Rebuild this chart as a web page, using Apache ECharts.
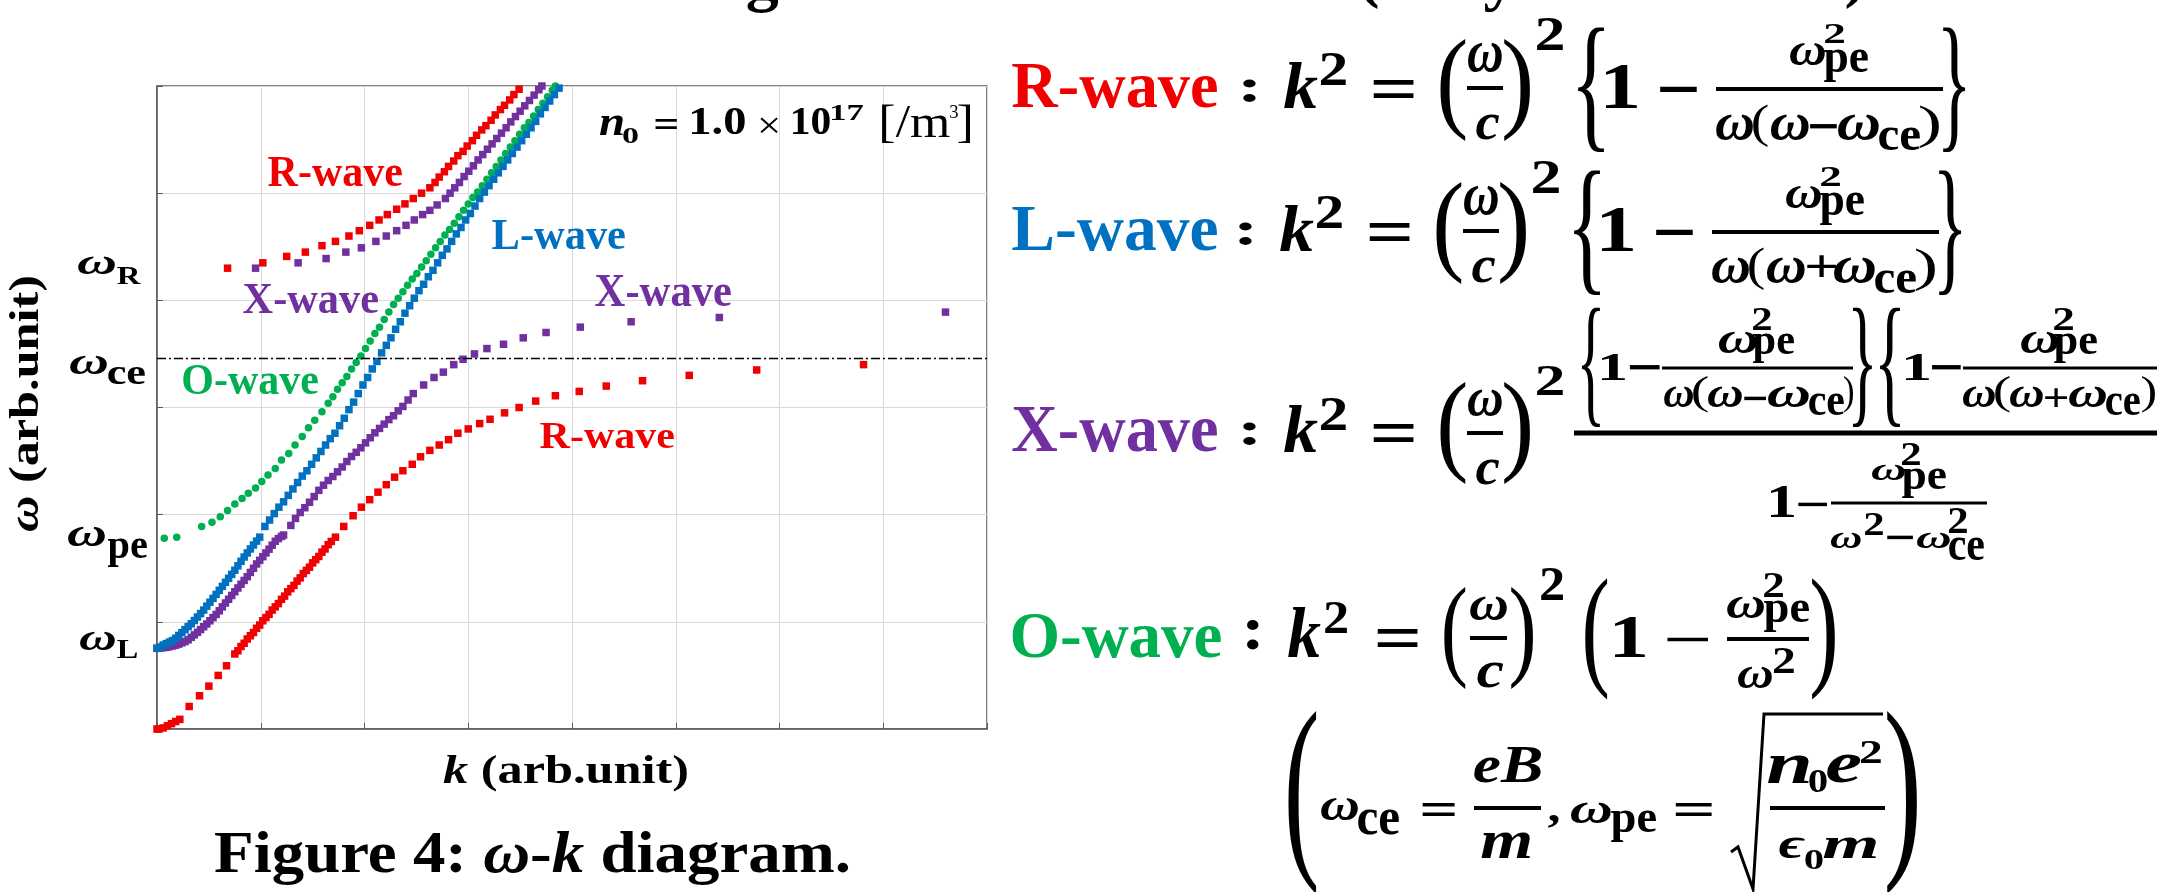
<!DOCTYPE html>
<html>
<head>
<meta charset="utf-8">
<script src="https://cdn.jsdelivr.net/npm/echarts@6/dist/echarts.min.js"></script>
<style>
  html, body { margin: 0; padding: 0; background: #fff; }
  #chart { width: 2157px; height: 892px; }
</style>
</head>
<body>
<div id="chart"></div>
<script>
// ---- data (k, omega in arb. units: one grid cell = 1) ----
const omegaTickValues = [4.32, 3.39, 1.79, 0.82];
const omegaTickNames = ['R', 'ce', 'pe', 'L'];
const omegaCe = 3.46;

const rWaveLow = [
  [0.00, 0.00], [0.02, 0.00], [0.06, 0.01], [0.10, 0.03], [0.14, 0.05], [0.18, 0.07], [0.22, 0.09],
  [0.31, 0.21], [0.41, 0.31], [0.50, 0.40], [0.59, 0.50], [0.67, 0.59],
  [0.75, 0.70], [0.78, 0.73], [0.81, 0.77], [0.84, 0.80], [0.87, 0.84], [0.90, 0.87], [0.93, 0.90],
  [0.96, 0.94], [0.99, 0.97], [1.02, 1.01], [1.05, 1.04], [1.08, 1.07], [1.11, 1.11], [1.14, 1.14],
  [1.17, 1.17], [1.20, 1.21], [1.23, 1.24], [1.26, 1.28], [1.29, 1.31], [1.32, 1.34], [1.35, 1.38],
  [1.38, 1.41], [1.41, 1.45], [1.44, 1.48], [1.47, 1.51], [1.50, 1.55], [1.53, 1.58], [1.56, 1.61],
  [1.59, 1.65], [1.62, 1.68], [1.65, 1.72], [1.68, 1.75], [1.72, 1.79],
  [1.80, 1.89], [1.89, 1.99], [1.97, 2.07], [2.05, 2.14], [2.13, 2.21], [2.21, 2.28], [2.29, 2.35],
  [2.37, 2.41], [2.46, 2.47], [2.54, 2.54], [2.63, 2.60], [2.72, 2.65], [2.81, 2.70], [2.90, 2.76],
  [3.00, 2.80], [3.11, 2.85], [3.21, 2.89], [3.35, 2.95], [3.49, 3.00], [3.65, 3.06], [3.84, 3.11],
  [4.07, 3.15], [4.33, 3.20], [4.68, 3.25], [5.13, 3.30], [5.78, 3.35], [6.81, 3.40]
];
const rWaveHigh = [
  [0.68, 4.30], [1.02, 4.35], [1.25, 4.41], [1.43, 4.45], [1.59, 4.51], [1.72, 4.55], [1.85, 4.60],
  [1.95, 4.65], [2.05, 4.70], [2.14, 4.75], [2.22, 4.80], [2.31, 4.85], [2.39, 4.90], [2.47, 4.95],
  [2.55, 5.00], [2.63, 5.05], [2.68, 5.10], [2.72, 5.15], [2.77, 5.20], [2.81, 5.25], [2.86, 5.30],
  [2.90, 5.35], [2.95, 5.39], [2.99, 5.44], [3.04, 5.49], [3.08, 5.54], [3.13, 5.59], [3.17, 5.63],
  [3.22, 5.68], [3.26, 5.73], [3.31, 5.78], [3.35, 5.82], [3.40, 5.87], [3.44, 5.92], [3.49, 5.97],
  [3.53, 6.01]
];
const xWaveLow = [
  [0.00, 0.753], [0.03, 0.755], [0.06, 0.759], [0.09, 0.762], [0.12, 0.768], [0.15, 0.775], [0.18, 0.782],
  [0.21, 0.792], [0.24, 0.804], [0.27, 0.816], [0.30, 0.832], [0.33, 0.855], [0.36, 0.878], [0.39, 0.902],
  [0.42, 0.928], [0.45, 0.954], [0.48, 0.98], [0.51, 1.01], [0.54, 1.039], [0.57, 1.069], [0.60, 1.103],
  [0.63, 1.14], [0.66, 1.176], [0.69, 1.211], [0.72, 1.246], [0.75, 1.281], [0.78, 1.316], [0.81, 1.351],
  [0.84, 1.386], [0.87, 1.421], [0.90, 1.461], [0.93, 1.50], [0.96, 1.54], [0.99, 1.574], [1.02, 1.608],
  [1.05, 1.643], [1.08, 1.678], [1.11, 1.715], [1.14, 1.752], [1.17, 1.777], [1.20, 1.797], [1.22, 1.81],
  [1.29, 1.90], [1.335, 1.965], [1.38, 2.02], [1.425, 2.065], [1.47, 2.116], [1.515, 2.169], [1.56, 2.227],
  [1.605, 2.275], [1.65, 2.319], [1.695, 2.356], [1.74, 2.40], [1.785, 2.445], [1.83, 2.496], [1.875, 2.543],
  [1.92, 2.582], [1.965, 2.624], [2.01, 2.67], [2.055, 2.718], [2.10, 2.764], [2.145, 2.805], [2.19, 2.845],
  [2.235, 2.887], [2.28, 2.923], [2.325, 2.969], [2.37, 3.01], [2.42, 3.07], [2.47, 3.13],
  [2.57, 3.21], [2.67, 3.28], [2.76, 3.33], [2.86, 3.40], [2.95, 3.45], [3.06, 3.50], [3.18, 3.55],
  [3.34, 3.59], [3.53, 3.65], [3.75, 3.70], [4.08, 3.75], [4.57, 3.80], [5.42, 3.84], [7.60, 3.89]
];
const xWaveHigh = [
  [0.95, 4.30], [1.36, 4.35], [1.63, 4.39], [1.82, 4.45], [1.97, 4.49], [2.11, 4.55], [2.21, 4.60],
  [2.31, 4.65], [2.40, 4.70], [2.48, 4.75], [2.56, 4.80], [2.63, 4.84], [2.70, 4.89], [2.78, 4.95],
  [2.825, 5.00], [2.87, 5.05], [2.915, 5.10], [2.96, 5.155], [3.005, 5.205], [3.05, 5.255], [3.095, 5.31],
  [3.14, 5.36], [3.185, 5.41], [3.23, 5.46], [3.275, 5.51], [3.32, 5.56], [3.365, 5.61], [3.41, 5.665],
  [3.455, 5.715], [3.50, 5.765], [3.545, 5.815], [3.59, 5.865], [3.635, 5.915], [3.68, 5.965], [3.71, 6.00]
];
const lWave = [
  [0.00, 0.753], [0.03, 0.765], [0.06, 0.784], [0.09, 0.797], [0.12, 0.811], [0.15, 0.825], [0.18, 0.847],
  [0.21, 0.873], [0.24, 0.899], [0.27, 0.927], [0.30, 0.955], [0.33, 0.982], [0.36, 1.012], [0.39, 1.045],
  [0.42, 1.077], [0.45, 1.11], [0.48, 1.146], [0.51, 1.183], [0.54, 1.219], [0.57, 1.256], [0.60, 1.294],
  [0.63, 1.331], [0.66, 1.369], [0.69, 1.406], [0.72, 1.443], [0.75, 1.481], [0.78, 1.523], [0.81, 1.565],
  [0.84, 1.605], [0.87, 1.643], [0.90, 1.68], [0.93, 1.717], [0.96, 1.753], [0.99, 1.79],
  [1.04, 1.89], [1.085, 1.95], [1.13, 2.01], [1.175, 2.07], [1.22, 2.12], [1.265, 2.18], [1.31, 2.24],
  [1.355, 2.30], [1.40, 2.36], [1.445, 2.41], [1.49, 2.47], [1.535, 2.53], [1.58, 2.59], [1.625, 2.65],
  [1.67, 2.71], [1.715, 2.76], [1.76, 2.83], [1.805, 2.90], [1.85, 2.98], [1.895, 3.05], [1.94, 3.13],
  [1.985, 3.21], [2.03, 3.28], [2.075, 3.36], [2.12, 3.43], [2.165, 3.51], [2.21, 3.58], [2.255, 3.65],
  [2.30, 3.73], [2.345, 3.80], [2.39, 3.88], [2.435, 3.95], [2.48, 4.02], [2.525, 4.09], [2.57, 4.15],
  [2.615, 4.22], [2.66, 4.28], [2.705, 4.35], [2.75, 4.42], [2.795, 4.48], [2.84, 4.55], [2.885, 4.62],
  [2.93, 4.68], [2.975, 4.75], [3.02, 4.81], [3.065, 4.88], [3.11, 4.95], [3.155, 5.01], [3.20, 5.07],
  [3.245, 5.13], [3.29, 5.19], [3.335, 5.25], [3.38, 5.31], [3.425, 5.37], [3.47, 5.43], [3.515, 5.49],
  [3.56, 5.55], [3.605, 5.61], [3.65, 5.67], [3.695, 5.74], [3.74, 5.80], [3.785, 5.86], [3.83, 5.92],
  [3.875, 5.98], [3.90, 6.01]
];
const oWave = [
  [0.07, 1.78], [0.19, 1.79],
  [0.43, 1.89], [0.53, 1.93], [0.61, 1.98], [0.68, 2.04], [0.75, 2.10], [0.82, 2.15], [0.88, 2.20],
  [0.95, 2.25], [1.01, 2.31], [1.07, 2.37], [1.14, 2.43], [1.20, 2.51], [1.27, 2.57], [1.33, 2.65],
  [1.40, 2.73], [1.46, 2.81], [1.52, 2.88], [1.59, 2.96], [1.65, 3.04], [1.695, 3.10], [1.74, 3.17],
  [1.785, 3.23], [1.83, 3.29], [1.875, 3.36], [1.92, 3.42], [1.965, 3.48], [2.01, 3.55], [2.055, 3.62],
  [2.10, 3.69], [2.145, 3.75], [2.19, 3.82], [2.235, 3.89], [2.28, 3.96], [2.325, 4.02], [2.37, 4.08],
  [2.415, 4.14], [2.46, 4.20], [2.505, 4.25], [2.55, 4.31], [2.595, 4.37], [2.64, 4.43], [2.685, 4.49],
  [2.73, 4.55], [2.775, 4.61], [2.82, 4.66], [2.865, 4.72], [2.91, 4.78], [2.955, 4.84], [3.00, 4.90],
  [3.045, 4.96], [3.09, 5.01], [3.135, 5.07], [3.18, 5.13], [3.225, 5.19], [3.27, 5.25], [3.315, 5.31],
  [3.36, 5.37], [3.405, 5.43], [3.45, 5.49], [3.495, 5.55], [3.54, 5.61], [3.585, 5.66], [3.63, 5.72],
  [3.675, 5.78], [3.72, 5.84], [3.765, 5.90], [3.81, 5.96], [3.84, 6.00]
];

const RED = '#f00000';
const PURPLE = '#7030a0';
const BLUE = '#0070c0';
const GREEN = '#00b050';
const FAM = '"Liberation Serif", "DejaVu Serif", serif';

const chart = echarts.init(document.getElementById('chart'));

function waveSeries(name, data, color, symbol) {
  return {
    name, type: 'scatter', data,
    symbol: symbol || 'rect', symbolSize: 7.5,
    itemStyle: { color, opacity: 1 },
    silent: true
  };
}

const option = {
  animation: false,
  backgroundColor: '#fff',
  grid: {
    left: 157, top: 86, width: 830, height: 643,
    show: true, borderColor: '#595959', borderWidth: 1.5
  },
  xAxis: {
    type: 'value', min: 0, max: 8, interval: 1,
    axisLine: { onZero: false, lineStyle: { color: '#595959', width: 1.5 } },
    axisTick: { inside: true, length: 6, lineStyle: { color: '#595959' } },
    axisLabel: { show: false },
    splitLine: { lineStyle: { color: '#d9d9d9', width: 1 } }
  },
  yAxis: {
    type: 'value', min: 0, max: 6, interval: 1,
    axisLine: { onZero: false, lineStyle: { color: '#595959', width: 1.5 } },
    axisTick: { inside: true, length: 6, lineStyle: { color: '#595959' } },
    axisLabel: { show: false },
    splitLine: { lineStyle: { color: '#d9d9d9', width: 1 } }
  },
  series: [
    Object.assign(waveSeries('O-wave', oWave, GREEN, 'circle'), {
      markLine: {
        silent: true, symbol: 'none', label: { show: false },
        lineStyle: { color: '#000', width: 1.3, type: [9, 3, 2, 3] },
        data: [{ yAxis: omegaCe }]
      }
    }),
    waveSeries('X-wave', xWaveLow, PURPLE),
    waveSeries('X-wave', xWaveHigh, PURPLE),
    waveSeries('R-wave', rWaveLow, RED),
    waveSeries('R-wave', rWaveHigh, RED),
    waveSeries('L-wave', lWave, BLUE)
  ]
};
chart.setOption(option);

// ---- text helpers: fit a string's ink into a box ----
const mctx = document.createElement('canvas').getContext('2d');
mctx.textBaseline = 'middle';
mctx.textAlign = 'left';
function fontOf(size, it, w) {
  return (it ? 'italic ' : 'normal ') + (w || 'bold') + ' ' + size + 'px ' + FAM;
}
function ink(s, it, w) {
  mctx.font = fontOf(100, it, w);
  const m = mctx.measureText(s);
  return { l: m.actualBoundingBoxLeft, r: m.actualBoundingBoxRight, a: m.actualBoundingBoxAscent, d: m.actualBoundingBoxDescent };
}
function textEl(s, x, y, size, o, sx, rot) {
  return {
    type: 'text', x, y, scaleX: sx, rotation: rot || 0, z: 50, silent: true,
    style: {
      text: s, fontSize: size, fontStyle: o.i ? 'italic' : 'normal', fontWeight: o.w || 'bold',
      fontFamily: FAM, fill: o.c || '#000', align: 'left', verticalAlign: 'middle'
    }
  };
}
function fit(s, x1, y1, x2, y2, o) {
  o = Object.assign({}, o);
  if (!o.w && '(){}'.indexOf(s) >= 0) o.w = 'normal';   // brackets are drawn thin
  const m = ink(s, o.i, o.w);
  const k = (y2 - y1) / (m.a + m.d);
  const sx = (x2 - x1) / ((m.l + m.r) * k);
  return textEl(s, x1 + sx * m.l * k, y1 + m.a * k, 100 * k, o, sx);
}
// glyph of a given size whose ink bottom sits at yb, centred on xc
function tail(s, xc, yb, size) {
  const m = ink(s, false);
  const k = size / 100;
  return textEl(s, xc - (m.r - m.l) * k / 2, yb - m.d * k, size, {}, 1);
}
// a run of pieces sharing one size, laid out left to right (or bottom to top)
function run(pieces, from, to, base, size, rot) {
  const descH = ink('H', false).d * size / 100;
  let total = 0;
  const widths = pieces.map(p => {
    mctx.font = fontOf(size, p[1]);
    const w = mctx.measureText(p[0]).width;
    total += w;
    return w;
  });
  const sx = Math.abs(to - from) / total;
  const out = [];
  let cum = 0;
  pieces.forEach((p, i) => {
    const o = { i: p[1] };
    if (rot) out.push(textEl(p[0], base - descH, from - sx * cum, size, o, sx, Math.PI / 2));
    else out.push(textEl(p[0], from + sx * cum, base - descH, size, o, sx));
    cum += widths[i];
  });
  return out;
}
function bar(x1, x2, y, w) {
  return { type: 'line', z: 50, silent: true, shape: { x1, y1: y, x2, y2: y }, style: { stroke: '#000', lineWidth: w || 4 } };
}

const els = [];
const add = list => list.forEach(p => els.push(fit(p[0], p[1], p[2], p[3], p[4], p[5])));

// bottoms of the title line that is cut off at the top edge
els.push(tail('g', 763, 13, 66), tail('(', 1369, 10, 66), tail('y', 1500, 12, 66), tail(')', 1855, 10, 66));

// y axis omega labels at their values
const labelBoxes = {
  R: { w: [78, 115, -8.5, 8.5], s: [117, 141, 1.5, 18.5] },
  ce: { w: [70, 107, -9, 9], s: [108, 145, 2, 19] },
  pe: { w: [68, 105, -9.5, 9.5], s: [108, 147, 0.5, 29.5] },
  L: { w: [80, 115, -9, 9], s: [117, 137, -1, 17] }
};
omegaTickValues.forEach((v, i) => {
  const name = omegaTickNames[i];
  const c = chart.convertToPixel({ yAxisIndex: 0 }, v);
  const b = labelBoxes[name];
  els.push(fit('ω', b.w[0], c + b.w[2], b.w[1], c + b.w[3], { i: true }));
  els.push(fit(name, b.s[0], c + b.s[2], b.s[1], c + b.s[3]));
});

// axis titles and caption
run([['k', true], [' (arb.unit)', false]], 443, 689, 783, 39).forEach(e => els.push(e));
run([['ω', true], [' (arb.unit)', false]], 532, 275, 38, 42, true).forEach(e => els.push(e));
run([['Figure 4: ', false], ['ω', true], ['-', false], ['k', true], [' diagram.', false]], 214, 851, 873, 60).forEach(e => els.push(e));

// labels inside the plot
add([
  ['R-wave', 268, 157, 402, 186, { c: RED }],
  ['X-wave', 243, 284, 378, 313, { c: PURPLE }],
  ['L-wave', 492, 220, 625, 249, { c: BLUE }],
  ['X-wave', 595, 276, 731, 306, { c: PURPLE }],
  ['O-wave', 183, 365, 318, 395, { c: GREEN }],
  ['R-wave', 540, 423, 674, 448, { c: RED }],
  ['n', 600, 115, 623, 135, { i: true }],
  ['0', 623, 127, 638, 143],
  ['=', 655, 120, 677, 130],
  ['1.0', 692, 108, 745, 135],
  ['×', 760, 117, 778, 133, { w: 'normal' }],
  ['10', 793, 108, 830, 135],
  ['17', 832, 105, 863, 120],
  ['[/m', 882, 105, 950, 143, { w: 'normal' }],
  ['3', 950, 105, 958, 118, { w: 'normal' }],
  [']', 958, 105, 970, 143, { w: 'normal' }]
]);

// R-wave and L-wave equations share one layout
function rlRow(label, color, sign, dx, dy) {
  const row = [
    [':', 1243, 78, 1256, 102], ['k', 1284, 63, 1318, 108, { i: true }], ['2', 1321, 53, 1346, 85],
    ['=', 1373, 80, 1414, 98], ['(', 1440, 38, 1466, 142], ['ω', 1468, 43, 1502, 72, { i: true }],
    ['c', 1476, 115, 1499, 140, { i: true }], [')', 1504, 38, 1530, 142], ['2', 1537, 18, 1563, 50],
    ['{', 1578, 27, 1604, 152], ['1', 1606, 65, 1637, 108], ['−', 1660, 86, 1697, 92],
    ['ω', 1790, 43, 1825, 65, { i: true }], ['2', 1825, 23, 1844, 43], ['pe', 1824, 48, 1868, 82],
    ['ω', 1716, 115, 1753, 140, { i: true }], ['(', 1753, 105, 1768, 147], ['ω', 1771, 115, 1809, 140, { i: true }],
    sign === '−' ? ['−', 1810, 124, 1837, 129] : ['+', 1811, 112, 1840, 134],
    ['ω', 1838, 115, 1879, 140, { i: true }], ['ce', 1879, 127, 1920, 150], [')', 1920, 105, 1939, 148],
    ['}', 1943, 27, 1965, 152]
  ];
  add([[label, 1012, 65 + dy, 1217, 108 + dy, { c: color }]]);
  add(row.map(p => [p[0], p[1] + dx, p[2] + dy, p[3] + dx, p[4] + dy, p[5]]));
  els.push(bar(1467 + dx, 1503 + dx, 88 + dy), bar(1716 + dx, 1943 + dx, 89 + dy));
}
rlRow('R-wave', RED, '−', 0, 0);
rlRow('L-wave', BLUE, '+', -4, 143);

// X-wave
add([
  ['X-wave', 1012, 408, 1217, 452, { c: PURPLE }],
  [':', 1243, 421, 1256, 445], ['k', 1284, 406, 1318, 452, { i: true }], ['2', 1321, 397, 1346, 430],
  ['=', 1373, 424, 1414, 442], ['(', 1440, 382, 1466, 485], ['ω', 1468, 390, 1502, 416, { i: true }],
  ['c', 1476, 460, 1499, 485, { i: true }], [')', 1504, 382, 1530, 485], ['2', 1537, 365, 1563, 395],
  ['{', 1582, 308, 1600, 427], ['1', 1602, 353, 1625, 380], ['−', 1630, 365, 1660, 370],
  ['ω', 1719, 332, 1757, 353, { i: true }], ['2', 1753, 307, 1771, 330], ['pe', 1753, 333, 1794, 363],
  ['ω', 1664, 387, 1693, 407, { i: true }], ['(', 1693, 377, 1708, 413], ['ω', 1708, 387, 1742, 407, { i: true }],
  ['−', 1744, 396, 1766, 400], ['ω', 1768, 387, 1809, 407, { i: true }], ['ce', 1809, 393, 1844, 415],
  [')', 1844, 377, 1853, 413], ['}', 1853, 308, 1872, 427],
  ['{', 1880, 308, 1900, 427], ['1', 1906, 353, 1929, 380], ['−', 1932, 365, 1961, 370],
  ['ω', 2021, 332, 2058, 353, { i: true }], ['2', 2054, 307, 2073, 330], ['pe', 2054, 333, 2097, 363],
  ['ω', 1963, 387, 1995, 407, { i: true }], ['(', 1995, 377, 2010, 413], ['ω', 2010, 387, 2043, 407, { i: true }],
  ['+', 2045, 388, 2067, 407], ['ω', 2069, 387, 2106, 407, { i: true }], ['ce', 2106, 393, 2140, 415],
  [')', 2142, 377, 2155, 413],
  ['1', 1771, 487, 1794, 517], ['−', 1798, 502, 1827, 506],
  ['ω', 1872, 465, 1905, 480, { i: true }], ['2', 1902, 443, 1920, 465], ['pe', 1902, 467, 1946, 498],
  ['ω', 1831, 533, 1861, 548, { i: true }], ['2', 1865, 512, 1883, 535], ['−', 1887, 535, 1913, 539],
  ['ω', 1917, 533, 1950, 548, { i: true }], ['2', 1949, 508, 1967, 533], ['ce', 1949, 537, 1984, 560]
]);
els.push(bar(1467, 1503, 433), bar(1574, 2157, 433, 5), bar(1662, 1853, 368, 3), bar(1963, 2157, 368, 3), bar(1831, 1987, 503, 3));

// O-wave
add([
  ['O-wave', 1012, 613, 1221, 658, { c: GREEN }],
  [':', 1247, 620, 1259, 650], ['k', 1288, 607, 1321, 657, { i: true }], ['2', 1325, 602, 1347, 633],
  ['=', 1377, 629, 1418, 647], ['(', 1444, 587, 1466, 690], ['ω', 1470, 597, 1507, 620, { i: true }],
  ['c', 1477, 663, 1503, 688, { i: true }], [')', 1511, 587, 1533, 690], ['2', 1541, 568, 1563, 600],
  ['(', 1585, 577, 1608, 700], ['1', 1615, 617, 1645, 657], ['−', 1667, 637, 1708, 641],
  ['ω', 1727, 597, 1764, 618, { i: true }], ['2', 1764, 573, 1783, 597], ['pe', 1764, 600, 1809, 632],
  ['ω', 1738, 667, 1772, 688, { i: true }], ['2', 1774, 648, 1794, 673], [')', 1812, 577, 1835, 700]
]);
els.push(bar(1470, 1507, 638), bar(1727, 1809, 639));

// definitions of omega_ce and omega_pe
add([
  ['(', 1288, 710, 1317, 895], ['ω', 1321, 798, 1358, 820, { i: true }], ['ce', 1358, 810, 1399, 835],
  ['=', 1422, 802, 1455, 815], ['eB', 1474, 748, 1541, 783, { i: true }], ['m', 1481, 832, 1530, 858, { i: true }],
  [',', 1548, 815, 1559, 828], ['ω', 1571, 803, 1611, 823, { i: true }], ['pe', 1611, 810, 1656, 842],
  ['=', 1675, 802, 1712, 815], ['n', 1768, 755, 1809, 783, { i: true }], ['0', 1809, 770, 1827, 793],
  ['e', 1827, 755, 1861, 783, { i: true }], ['2', 1861, 740, 1881, 763],
  ['ϵ', 1779, 837, 1805, 858, { i: true }], ['0', 1805, 850, 1823, 870], ['m', 1823, 837, 1876, 858, { i: true }],
  [')', 1887, 710, 1917, 895]
]);
els.push(bar(1474, 1541, 808), bar(1770, 1885, 808));
els.push({
  type: 'polyline', z: 50, silent: true,
  shape: { points: [[1731, 852], [1738, 847], [1753, 889], [1764, 714], [1883, 714]] },
  style: { stroke: '#000', lineWidth: 3, fill: null }
});

chart.setOption({ graphic: { elements: els } });
window.onresize = () => chart.resize();
</script>
</body>
</html>
